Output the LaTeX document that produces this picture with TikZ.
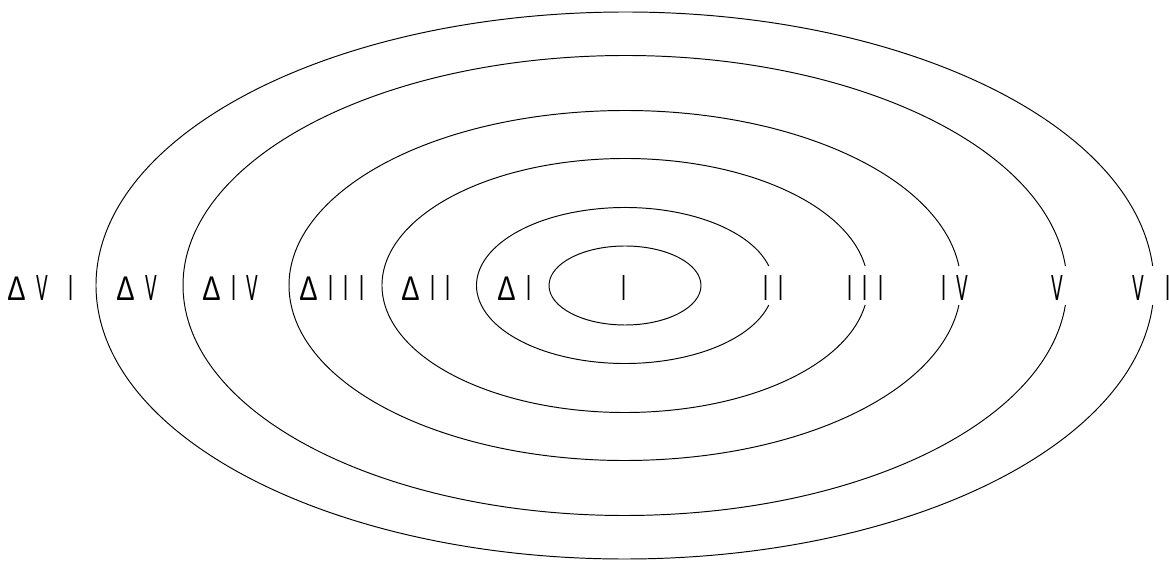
\documentclass[tikz,border=0pt]{standalone}
\usepackage{fontspec}
\newfontfamily\romfont[FakeStretch=0.5]{DejaVu Sans}
\newfontfamily\deltafont[FakeStretch=0.8]{Liberation Sans}
\newcommand{\lsep}{\hspace{6pt}}
\newcommand{\dl}[1]{{\deltafont Δ}\lsep #1}
\tikzset{
  ring/.style={line width=0.55pt},
  numlabel/.style={font=\romfont\fontsize{19.5}{20}\selectfont, inner sep=0pt, anchor=west}
}

\begin{document}
\begin{tikzpicture}[x=0.02cm,y=0.02cm]
  \useasboundingbox (0,0) rectangle (1169,561);
  \coordinate (c) at (625,275.5);
  % innermost ring, closed
  \draw[ring] (c) ellipse [x radius=76, y radius=39.5];
  % outer rings, open on the right where the numerals sit
  \foreach \rx/\ry/\t in {148.5/78/14.5, 243/127/8.8, 336/175/6.4, 442/230/4.9, 529/273.5/4.1} {
    \draw[ring] ([shift={({\rx*cos(\t)},{\ry*sin(\t)})}]c) arc[start angle=\t, end angle=360-\t, x radius=\rx, y radius=\ry];
  }
  % left labels
  \node[numlabel] (d6) at (7,273) {\dl{V\lsep\lsep I}};
  \node[numlabel] (d5) at (116,273) {\dl{V}};
  \node[numlabel] (d4) at (202,273) {\dl{I\lsep V}};
  \node[numlabel] (d3) at (299,273) {\dl{I\lsep I\lsep I}};
  \node[numlabel] (d2) at (401,273) {\dl{I\lsep I}};
  \node[numlabel] (d1) at (497,273) {\dl{I}};
  % right labels
  \node[numlabel] (r1) at (621,273) {I};
  \node[numlabel] (r2) at (763,273) {I\lsep I};
  \node[numlabel] (r3) at (847,273) {I\lsep I\lsep I};
  \node[numlabel] (r4) at (941,273) {I\lsep V};
  \node[numlabel] (r5) at (1051,273) {V};
  \node[numlabel] (r6) at (1132,273) {V\lsep\lsep I};
\end{tikzpicture}
\end{document}
